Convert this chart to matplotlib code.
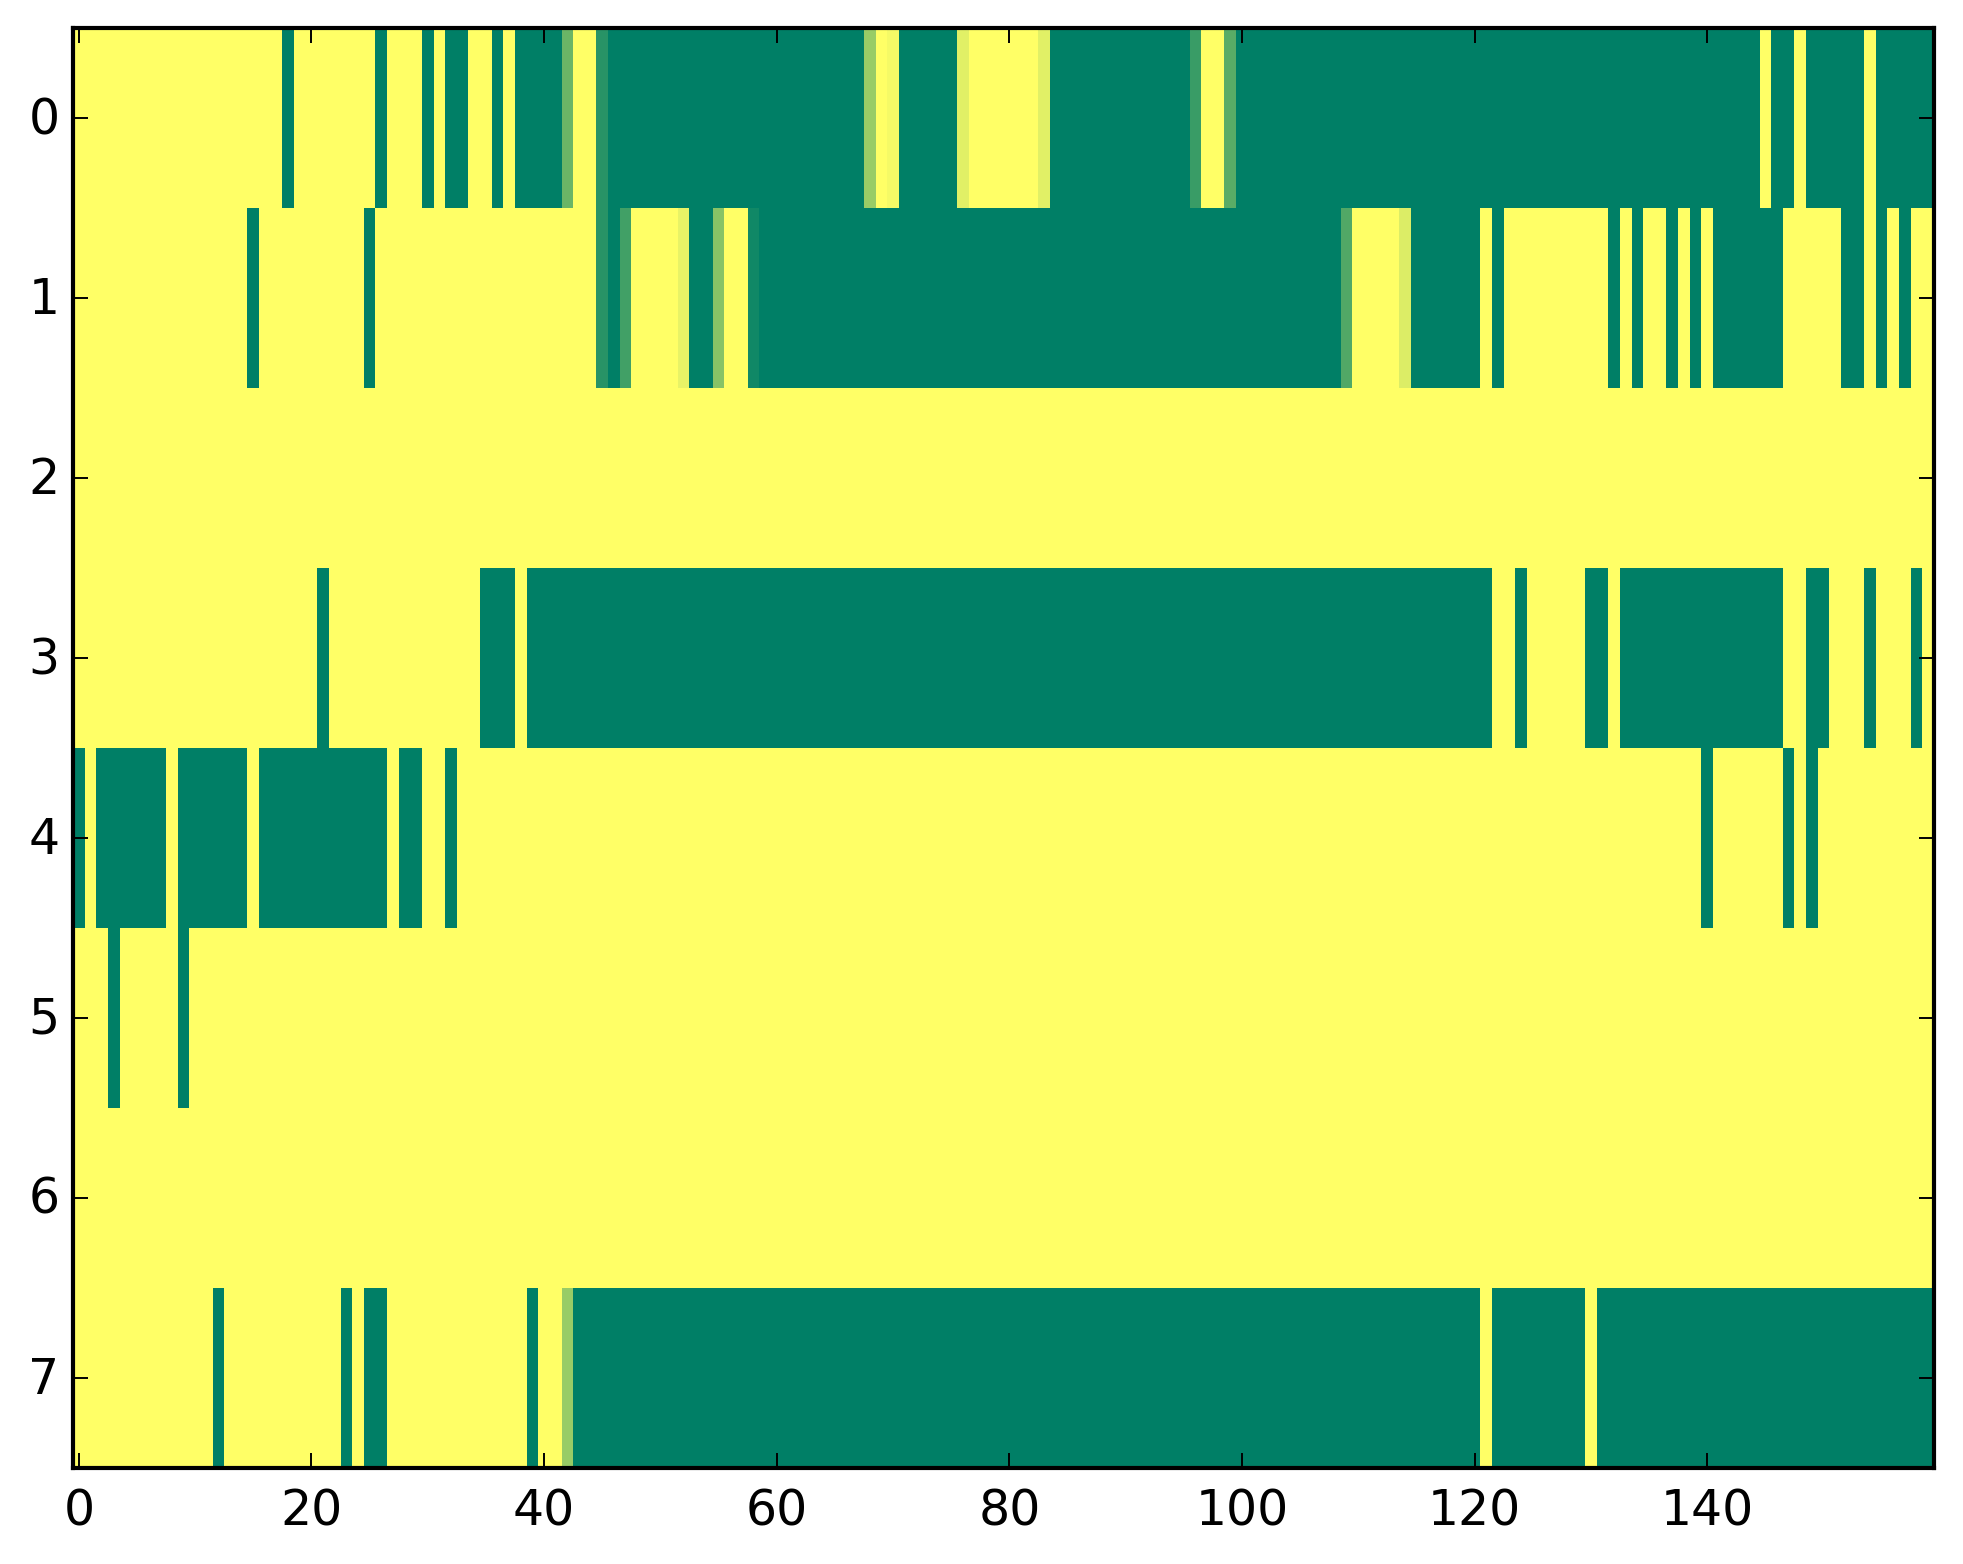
#Occupancy style heatmap, 8 rows by 160 columns
import numpy as np
import matplotlib
matplotlib.use("Agg")
import matplotlib.pyplot as plt
from matplotlib.transforms import ScaledTranslation

row0 = [0,0,0,0,0,0,0,0,0,0,0,0,0,0,0,0,0,0,1,0,
        0,0,0,0,0,0,1,0,0,0,1,0,1,1,0,0,1,0,1,1,
        1,1,.58,0,0,.84,1,1,1,1,1,1,1,1,1,1,1,1,1,1,
        1,1,1,1,1,1,1,1,.4,0,.04,1,1,1,1,1,.12,0,0,0,
        0,0,0,.12,1,1,1,1,1,1,1,1,1,1,1,1,.77,0,0,.65,
        1,1,1,1,1,1,1,1,1,1,1,1,1,1,1,1,1,1,1,1,
        1,1,1,1,1,1,1,1,1,1,1,1,1,1,1,1,1,1,1,1,
        1,1,1,1,1,0,1,1,0,1,1,1,1,1,0,1,1,1,1,1]
row1 = [0,0,0,0,0,0,0,0,0,0,0,0,0,0,0,1,0,0,0,0,
        0,0,0,0,0,1,0,0,0,0,0,0,0,0,0,0,0,0,0,0,
        0,0,0,0,0,.84,1,.74,0,0,0,0,.09,1,1,.47,0,0,.93,1,
        1,1,1,1,1,1,1,1,1,1,1,1,1,1,1,1,1,1,1,1,
        1,1,1,1,1,1,1,1,1,1,1,1,1,1,1,1,1,1,1,1,
        1,1,1,1,1,1,1,1,1,.68,0,0,0,0,.14,1,1,1,1,1,
        1,0,1,0,0,0,0,0,0,0,0,0,1,0,1,0,0,1,0,1,
        0,1,1,1,1,1,1,0,0,0,0,0,1,1,0,1,0,1,0,0]
row2 = [0]*160
row3 = [0,0,0,0,0,0,0,0,0,0,0,0,0,0,0,0,0,0,0,0,
        0,1,0,0,0,0,0,0,0,0,0,0,0,0,0,1,1,1,0,1,
        1,1,1,1,1,1,1,1,1,1,1,1,1,1,1,1,1,1,1,1,
        1,1,1,1,1,1,1,1,1,1,1,1,1,1,1,1,1,1,1,1,
        1,1,1,1,1,1,1,1,1,1,1,1,1,1,1,1,1,1,1,1,
        1,1,1,1,1,1,1,1,1,1,1,1,1,1,1,1,1,1,1,1,
        1,1,0,0,1,0,0,0,0,0,1,1,0,1,1,1,1,1,1,1,
        1,1,1,1,1,1,1,0,0,1,1,0,0,0,1,0,0,0,1,0]
row4 = [1,0,1,1,1,1,1,1,0,1,1,1,1,1,1,0,1,1,1,1,
        1,1,1,1,1,1,1,0,1,1,0,0,1,0,0,0,0,0,0,0,
        0,0,0,0,0,0,0,0,0,0,0,0,0,0,0,0,0,0,0,0,
        0,0,0,0,0,0,0,0,0,0,0,0,0,0,0,0,0,0,0,0,
        0,0,0,0,0,0,0,0,0,0,0,0,0,0,0,0,0,0,0,0,
        0,0,0,0,0,0,0,0,0,0,0,0,0,0,0,0,0,0,0,0,
        0,0,0,0,0,0,0,0,0,0,0,0,0,0,0,0,0,0,0,0,
        1,0,0,0,0,0,0,1,0,1,0,0,0,0,0,0,0,0,0,0]
row5 = [0,0,0,1,0,0,0,0,0,1,0,0,0,0,0,0,0,0,0,0] + [0]*140
row6 = [0]*160
row7 = [0,0,0,0,0,0,0,0,0,0,0,0,1,0,0,0,0,0,0,0,
        0,0,0,1,0,1,1,0,0,0,0,0,0,0,0,0,0,0,0,1,
        0,0,.4,1,1,1,1,1,1,1,1,1,1,1,1,1,1,1,1,1,
        1,1,1,1,1,1,1,1,1,1,1,1,1,1,1,1,1,1,1,1,
        1,1,1,1,1,1,1,1,1,1,1,1,1,1,1,1,1,1,1,1,
        1,1,1,1,1,1,1,1,1,1,1,1,1,1,1,1,1,1,1,1,
        1,0,1,1,1,1,1,1,1,1,0,1,1,1,1,1,1,1,1,1,
        1,1,1,1,1,1,1,1,1,1,1,1,1,1,1,1,1,1,1,1]

xticks = [0,20,40,60,80,100,120,140]
yticks = [0,1,2,3,4,5,6,7]

grid = np.array([row0,row1,row2,row3,row4,row5,row6,row7])

W, H = 1963, 1564
fig = plt.figure(figsize=(W/200.,H/200.),dpi=200)
ax = fig.add_axes([73./W,1-1468./H,(1934.-73.)/W,1440./H])
ax.imshow(grid,aspect='auto',cmap='summer_r',vmin=0,vmax=1,interpolation='nearest')

ax.set_xticks(xticks)
ax.set_yticks(yticks)
ax.tick_params(direction='in',top=True,right=True,length=5.4,width=0.7,labelsize=17.6)
ax.tick_params(axis='x',pad=7)
ax.tick_params(axis='y',pad=4.9)
# y labels sit a little above the tick in the original
for lab in ax.get_yticklabels():
    lab.set_transform(lab.get_transform()+ScaledTranslation(0,3/200.,fig.dpi_scale_trans))
for s in ax.spines.values():
    s.set_linewidth(1.5)

fig.savefig('out.png',dpi=200)
